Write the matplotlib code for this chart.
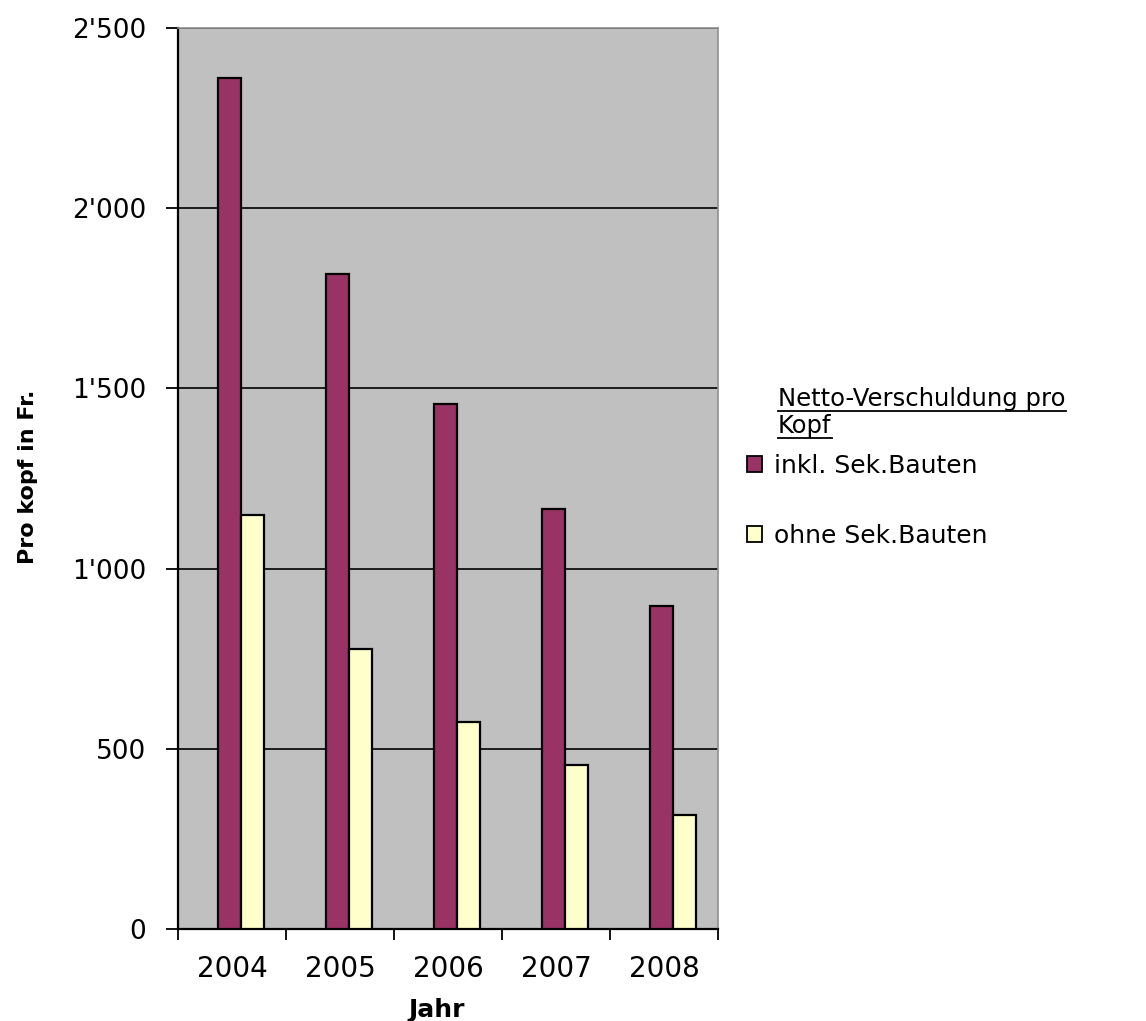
import matplotlib
matplotlib.use('Agg')
import matplotlib.pyplot as plt
from matplotlib.ticker import FuncFormatter, MultipleLocator
from matplotlib.patches import Patch
from matplotlib.lines import Line2D

# data
years = ['2004', '2005', '2006', '2007', '2008']
inklSek = [2360, 1818, 1458, 1165, 895]
ohneSek = [1148, 777, 573, 455, 317]

purple = '#993366'
yellow = '#FFFFCC'
plotBg = '#C0C0C0'

fig = plt.figure(figsize=(11.46, 10.21), dpi=100)
ax = fig.add_axes([0.1553, 0.0901, 0.4712, 0.8825])
ax.set_facecolor(plotBg)

xPos = list(range(len(years)))
barW = 0.21
ax.bar([x - 0.02 for x in xPos], inklSek, width=barW, color=purple,
       edgecolor='black', linewidth=1.6, zorder=3)
ax.bar([x + 0.19 for x in xPos], ohneSek, width=barW, color=yellow,
       edgecolor='black', linewidth=1.6, zorder=3)

ax.set_xlim(-0.5, len(years) - 0.5)
ax.set_ylim(0, 2500)

# y axis
ax.yaxis.set_major_locator(MultipleLocator(500))
ax.yaxis.set_major_formatter(FuncFormatter(lambda v, p: f'{int(v):,}'.replace(',', "'")))
ax.tick_params(axis='y', direction='out', length=9, width=1.3, pad=14,
               labelsize=19, colors='black')
ax.yaxis.grid(True, color='black', linewidth=1.2)
ax.set_axisbelow(True)

# x axis: labels at centres, tick marks at the category borders
ax.set_xticks(xPos)
ax.set_xticklabels(years)
ax.set_xticks([x - 0.5 for x in range(len(years) + 1)], minor=True)
ax.tick_params(axis='x', which='major', length=0, pad=19, labelsize=20)
ax.tick_params(axis='x', which='minor', direction='out', length=8, width=1.3)

ax.spines['left'].set_color('black')
ax.spines['left'].set_linewidth(1.6)
ax.spines['bottom'].set_color('black')
ax.spines['bottom'].set_linewidth(1.6)
ax.spines['top'].set_color('#909090')
ax.spines['top'].set_linewidth(1.2)
ax.spines['right'].set_color('#909090')
ax.spines['right'].set_linewidth(1.2)

# axis titles
fig.text(0.381, 0.011, 'Jahr', fontsize=18, fontweight='bold', ha='center', va='center')
fig.text(0.024, 0.533, 'Pro kopf in Fr.', fontsize=16, fontweight='bold',
         ha='center', va='center', rotation=90)

# legend title with underline
titleLines = ['Netto-Verschuldung pro', 'Kopf']
titleY = [1 - 406 / 1021, 1 - 433 / 1021]
titleTexts = []
for txt, ty in zip(titleLines, titleY):
    titleTexts.append(fig.text(778 / 1146, ty, txt, fontsize=17.5, ha='left', va='baseline'))

handles = [Patch(facecolor=purple, edgecolor='black', linewidth=1.3),
           Patch(facecolor=yellow, edgecolor='black', linewidth=1.3)]
fig.legend(handles, ['inkl. Sek.Bauten', 'ohne Sek.Bauten'],
           loc='upper left', bbox_to_anchor=(747 / 1146, 1 - 454 / 1021),
           frameon=False, fontsize=18, handlelength=0.58, handleheight=0.58,
           handletextpad=0.5, labelspacing=1.83, borderaxespad=0, borderpad=0)

fig.canvas.draw()
renderer = fig.canvas.get_renderer()
for t, ty in zip(titleTexts, titleY):
    bb = t.get_window_extent(renderer)
    x0 = bb.x0 / fig.bbox.width
    x1 = bb.x1 / fig.bbox.width
    fig.add_artist(Line2D([x0, x1], [ty - 5 / 1021, ty - 5 / 1021],
                          color='black', linewidth=1.3, transform=fig.transFigure))

fig.savefig('out.png', dpi=100)
